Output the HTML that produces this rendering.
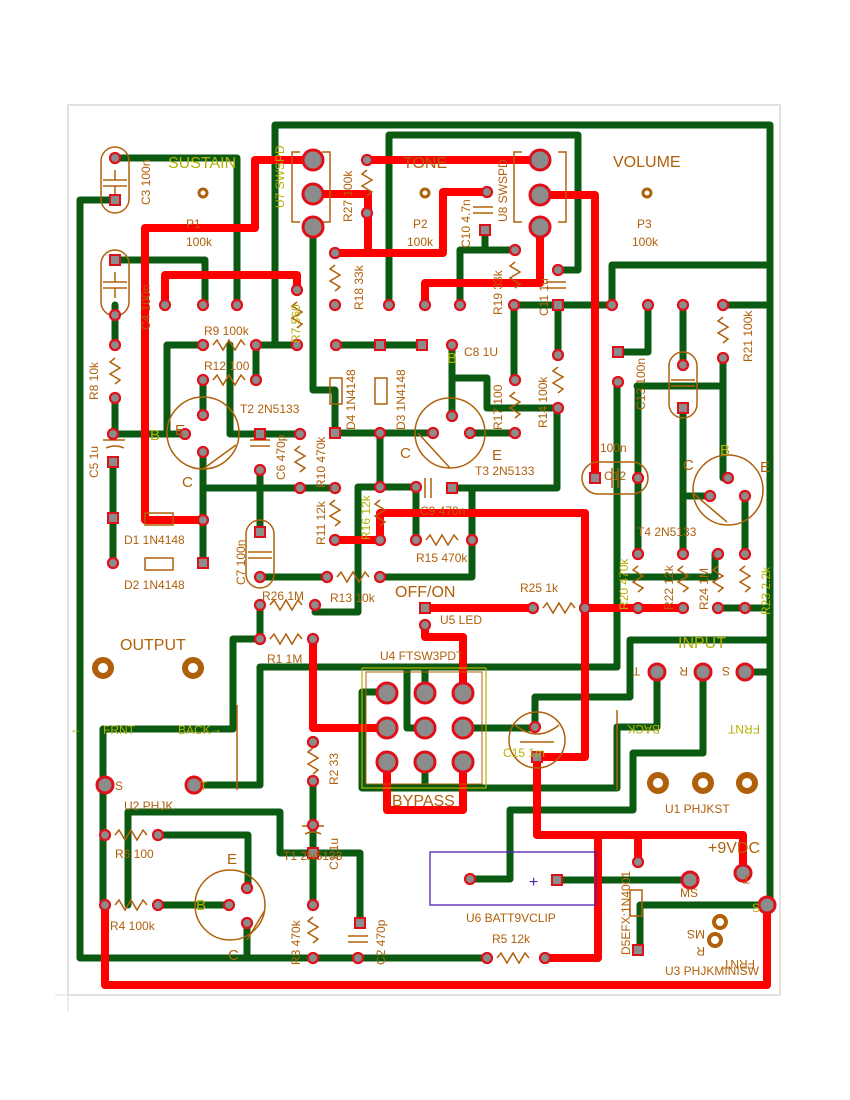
<!DOCTYPE html>
<html><head><meta charset="utf-8"><style>
html,body{margin:0;padding:0;background:#fff;}
svg{display:block;}
text{font-family:"Liberation Sans",sans-serif;}
</style></head><body>
<svg width="850" height="1100" viewBox="0 0 850 1100" xmlns="http://www.w3.org/2000/svg">
<rect x="68" y="105" width="712" height="890" fill="none" stroke="#d8d8d8" stroke-width="1.5"/>
<line x1="68" y1="995" x2="68" y2="1012" stroke="#d8d8d8"/>
<line x1="55" y1="995" x2="68" y2="995" stroke="#d8d8d8"/>

<g fill="none" stroke="#0b5a12" stroke-width="7" stroke-linejoin="round" stroke-linecap="round">
<polyline points="275,345 275,125 770,125 770,905"/>
<polyline points="612,305 612,265 770,265"/>
<polyline points="389,305 389,135 578,135 578,270 558,270"/>
<polyline points="115,200 80,200 80,958 487,958"/>
<polyline points="115,158 237,158 237,305"/>
<polyline points="115,260 205,260 205,305"/>
<polyline points="115,305 115,345"/>
<polyline points="115,398 115,434"/>
<polyline points="113,462 113,563"/>
<polyline points="256,345 297,345"/>
<polyline points="256,345 256,380"/>
<polyline points="203,345 167,345 167,434"/>
<polyline points="113,434 185,434"/>
<polyline points="230,345 230,434 260,434"/>
<polyline points="203,380 203,410"/>
<polyline points="260,434 300,434"/>
<polyline points="203,452 203,563"/>
<polyline points="203,488 335,488"/>
<polyline points="260,470 260,532"/>
<polyline points="260,577 327,577"/>
<polyline points="380,577 472,577 472,488 452,488"/>
<polyline points="452,488 557,488 557,408"/>
<polyline points="472,488 472,540"/>
<polyline points="315,612 358,612 358,487 416,487 416,540"/>
<polyline points="380,487 380,433"/>
<polyline points="335,433 433,433"/>
<polyline points="313,227 313,390 335,390 335,433"/>
<polyline points="336,345 422,345"/>
<polyline points="452,345 452,416"/>
<polyline points="452,378 487,378 487,408 557,408"/>
<polyline points="470,433 515,433"/>
<polyline points="514,380 514,305 612,305"/>
<polyline points="558,305 558,355"/>
<polyline points="485,230 485,250"/>
<polyline points="515,250 460,250 460,305"/>
<polyline points="648,305 648,352 618,352"/>
<polyline points="194,785 260,785 260,667 617,667 617,382"/>
<polyline points="260,605 260,639 233,639 233,729 103,729 103,905"/>
<polyline points="683,305 683,365"/>
<polyline points="637,386 723,386"/>
<polyline points="723,358 723,478"/>
<polyline points="723,305 770,305"/>
<polyline points="638,386 638,554"/>
<polyline points="683,408 683,554"/>
<polyline points="683,496 708,496"/>
<polyline points="745,496 745,554"/>
<polyline points="617,577 715,577 715,554"/>
<polyline points="718,608 770,608"/>
<polyline points="470,879 510,879 510,810 633,810 633,753 703,753 703,672"/>
<polyline points="657,672 657,727 617,727 617,788 362,788 362,692 387,692"/>
<polyline points="535,727 535,697 630,697 630,640 767,640"/>
<polyline points="745,672 767,672"/>
<polyline points="425,668 425,693"/>
<polyline points="407,668 407,728 425,728"/>
<polyline points="425,762 425,788"/>
<polyline points="463,728 535,728"/>
<polyline points="313,781 313,905"/>
<polyline points="128,812 280,812 280,853 360,853 360,923"/>
<polyline points="128,812 128,905"/>
<polyline points="158,905 229,905"/>
<polyline points="158,835 248,835 248,888"/>
<polyline points="247,923 247,958"/>
<polyline points="557,880 690,880"/>
<polyline points="767,905 640,905 640,950"/>
</g>

<g fill="none" stroke="#f00" stroke-width="8" stroke-linejoin="round" stroke-linecap="round">
<polyline points="313,160 255,160 255,228 145,228 145,520 203,520"/>
<polyline points="313,194 368,194 368,253 335,253"/>
<polyline points="368,253 443,253 443,192 487,192"/>
<polyline points="367,160 540,160"/>
<polyline points="540,195 595,195 595,478"/>
<polyline points="540,227 540,283 425,283 425,305"/>
<polyline points="165,305 165,275 297,275 297,290"/>
<polyline points="335,540 380,540 380,513 585,513 585,757 537,757 537,835 743,835 743,873"/>
<polyline points="598,835 598,958 545,958"/>
<polyline points="638,835 638,862"/>
<polyline points="425,608 533,608"/>
<polyline points="585,608 683,608"/>
<polyline points="425,625 425,637 463,637 463,693"/>
<polyline points="313,637 313,728 387,728"/>
<polyline points="387,762 387,810 463,810 463,762"/>
<polyline points="105,905 105,985 767,985 767,905"/>
</g>

<g fill="none" stroke="#b0600a" stroke-width="1.5">
<rect x="101" y="147" width="28" height="66" rx="14"/>
<rect x="101" y="250" width="28" height="66" rx="14"/>
<rect x="246" y="520" width="28" height="68" rx="14"/>
<rect x="582" y="462" width="66" height="32" rx="16"/>
<rect x="669" y="352" width="28" height="66" rx="14"/>
<circle cx="203" cy="433" r="36"/>
<line x1="203" y1="469" x2="236" y2="445"/>
<circle cx="450" cy="433" r="35"/>
<line x1="418" y1="433" x2="450" y2="468"/>
<circle cx="728" cy="490" r="35"/>
<line x1="694" y1="494" x2="727" y2="522"/>
<circle cx="230" cy="905" r="35"/>
<line x1="247" y1="940" x2="265" y2="910"/>
<circle cx="537" cy="740" r="28"/>
<path d="M515,725 q22,18 44,0 M520,742 h34"/>
<path d="M300,152 h-8 v70 h8 M322,152 h8 v70 h-8"/>
<path d="M522,152 h-8 v70 h8 M558,152 h8 v70 h-8"/>
<rect x="145" y="513" width="28" height="12"/>
<rect x="145" y="558" width="28" height="12"/>
<rect x="330" y="378" width="12" height="26"/>
<rect x="375" y="378" width="12" height="26"/>
<rect x="630" y="890" width="12" height="26"/>
<line x1="237" y1="705" x2="237" y2="790"/>
<line x1="617" y1="710" x2="617" y2="790"/>
</g>
<rect x="362" y="668" width="124" height="120" fill="none" stroke="#b5b000" stroke-width="1.2"/>
<rect x="366" y="672" width="116" height="112" fill="none" stroke="#b0600a" stroke-width="1"/>
<rect x="430" y="852" width="166" height="53" fill="none" stroke="#5020b0" stroke-width="1.3"/>
<text x="529" y="887" font-size="16" fill="#5020b0">+</text>

<g fill="none" stroke="#b0600a" stroke-width="1.5">
<path d="M115,358 l-5,4 l10,6 l-10,6 l10,6 l-5,4"/>
<path d="M213,345 l4,-5 l6,10 l6,-10 l6,10 l6,-10 l4,5"/>
<path d="M213,380 l4,-5 l6,10 l6,-10 l6,10 l6,-10 l4,5"/>
<path d="M297,302 l-5,4 l10,6 l-10,6 l10,6 l-5,4"/>
<path d="M367,170 l-5,4 l10,6 l-10,6 l10,6 l-5,4"/>
<path d="M335,265 l-5,4 l10,6 l-10,6 l10,6 l-5,4"/>
<path d="M515,262 l-5,4 l10,6 l-10,6 l10,6 l-5,4"/>
<path d="M515,392 l-5,4 l10,6 l-10,6 l10,6 l-5,4"/>
<path d="M558,367 l-5,4 l10,6 l-10,6 l10,6 l-5,4"/>
<path d="M723,317 l-5,4 l10,6 l-10,6 l10,6 l-5,4"/>
<path d="M300,446 l-5,4 l10,6 l-10,6 l10,6 l-5,4"/>
<path d="M335,500 l-5,4 l10,6 l-10,6 l10,6 l-5,4"/>
<path d="M380,500 l-5,4 l10,6 l-10,6 l10,6 l-5,4"/>
<path d="M426,540 l4,-5 l6,10 l6,-10 l6,10 l6,-10 l4,5"/>
<path d="M337,577 l4,-5 l6,10 l6,-10 l6,10 l6,-10 l4,5"/>
<path d="M270,605 l4,-5 l6,10 l6,-10 l6,10 l6,-10 l4,5"/>
<path d="M270,639 l4,-5 l6,10 l6,-10 l6,10 l6,-10 l4,5"/>
<path d="M543,608 l4,-5 l6,10 l6,-10 l6,10 l6,-10 l4,5"/>
<path d="M638,566 l-5,4 l10,6 l-10,6 l10,6 l-5,4"/>
<path d="M683,566 l-5,4 l10,6 l-10,6 l10,6 l-5,4"/>
<path d="M718,566 l-5,4 l10,6 l-10,6 l10,6 l-5,4"/>
<path d="M745,566 l-5,4 l10,6 l-10,6 l10,6 l-5,4"/>
<path d="M313,748 l-5,4 l10,6 l-10,6 l10,6 l-5,4"/>
<path d="M115,835 l4,-5 l6,10 l6,-10 l6,10 l6,-10 l4,5"/>
<path d="M115,905 l4,-5 l6,10 l6,-10 l6,10 l6,-10 l4,5"/>
<path d="M313,917 l-5,4 l10,6 l-10,6 l10,6 l-5,4"/>
<path d="M497,958 l4,-5 l6,10 l6,-10 l6,10 l6,-10 l4,5"/>
<path d="M103,180 h24 M103,186 h24 M115,170 v10 M115,186 v10"/>
<path d="M103,282 h24 M103,288 h24 M115,272 v10 M115,288 v10"/>
<path d="M248,552 h24 M248,558 h24"/>
<path d="M612,468 v20 M618,468 v20"/>
<path d="M671,380 h24 M671,386 h24"/>
<path d="M250,440 h20 M250,446 h20"/>
<path d="M425,478 v20 M431,478 v20"/>
<path d="M473,207 h20 M473,213 h20"/>
<path d="M546,282 h20 M546,288 h20"/>
<path d="M348,936 h20 M348,942 h20"/>
<path d="M302,826 h22 M305,834 q8,-4 16,0"/>
<path d="M103,440 h22 M106,448 q9,-4 18,0"/>
</g>

<g fill="#8c8c8c" stroke="#e0101a" stroke-width="2.2">
<circle cx="115" cy="158" r="5"/><circle cx="115" cy="315" r="5"/><circle cx="115" cy="345" r="5"/><circle cx="115" cy="398" r="5"/>
<circle cx="113" cy="434" r="5"/><circle cx="113" cy="563" r="5"/>
<circle cx="165" cy="305" r="5"/><circle cx="203" cy="305" r="5"/><circle cx="237" cy="305" r="5"/><circle cx="297" cy="290" r="5"/>
<circle cx="203" cy="345" r="5"/><circle cx="256" cy="345" r="5"/><circle cx="297" cy="345" r="5"/>
<circle cx="203" cy="380" r="5"/><circle cx="256" cy="380" r="5"/>
<circle cx="203" cy="415" r="5"/><circle cx="185" cy="434" r="5"/><circle cx="203" cy="452" r="5"/>
<circle cx="300" cy="434" r="5"/><circle cx="260" cy="470" r="5"/><circle cx="300" cy="488" r="5"/><circle cx="335" cy="488" r="5"/>
<circle cx="203" cy="520" r="5"/><circle cx="260" cy="577" r="5"/><circle cx="327" cy="577" r="5"/><circle cx="380" cy="577" r="5"/>
<circle cx="335" cy="540" r="5"/><circle cx="380" cy="540" r="5"/><circle cx="416" cy="540" r="5"/><circle cx="472" cy="540" r="5"/>
<circle cx="380" cy="487" r="5"/><circle cx="416" cy="487" r="5"/>
<circle cx="260" cy="605" r="5"/><circle cx="315" cy="605" r="5"/><circle cx="260" cy="639" r="5"/><circle cx="313" cy="639" r="5"/>
<circle cx="367" cy="160" r="5"/><circle cx="367" cy="213" r="5"/><circle cx="335" cy="253" r="5"/><circle cx="335" cy="305" r="5"/><circle cx="389" cy="305" r="5"/>
<circle cx="425" cy="305" r="5"/><circle cx="460" cy="305" r="5"/><circle cx="487" cy="192" r="5"/><circle cx="515" cy="250" r="5"/>
<circle cx="558" cy="270" r="5"/><circle cx="514" cy="305" r="5"/><circle cx="612" cy="305" r="5"/><circle cx="648" cy="305" r="5"/>
<circle cx="683" cy="305" r="5"/><circle cx="723" cy="305" r="5"/><circle cx="723" cy="358" r="5"/><circle cx="683" cy="365" r="5"/>
<circle cx="336" cy="345" r="5"/><circle cx="452" cy="345" r="5"/><circle cx="515" cy="380" r="5"/><circle cx="558" cy="355" r="5"/>
<circle cx="558" cy="408" r="5"/><circle cx="618" cy="382" r="5"/>
<circle cx="380" cy="433" r="5"/><circle cx="433" cy="433" r="5"/><circle cx="452" cy="416" r="5"/><circle cx="470" cy="433" r="5"/><circle cx="515" cy="433" r="5"/>
<circle cx="638" cy="478" r="5"/><circle cx="710" cy="496" r="5"/><circle cx="728" cy="478" r="5"/><circle cx="745" cy="496" r="5"/>
<circle cx="638" cy="554" r="5"/><circle cx="683" cy="554" r="5"/><circle cx="718" cy="554" r="5"/><circle cx="745" cy="554" r="5"/>
<circle cx="585" cy="608" r="5"/><circle cx="638" cy="608" r="5"/><circle cx="683" cy="608" r="5"/><circle cx="718" cy="608" r="5"/><circle cx="745" cy="608" r="5"/>
<circle cx="533" cy="608" r="5"/><circle cx="425" cy="625" r="5"/><circle cx="535" cy="727" r="5"/>
<circle cx="313" cy="742" r="5"/><circle cx="313" cy="781" r="5"/><circle cx="313" cy="825" r="5"/><circle cx="313" cy="905" r="5"/><circle cx="313" cy="958" r="5"/><circle cx="358" cy="958" r="5"/>
<circle cx="105" cy="835" r="5"/><circle cx="158" cy="835" r="5"/><circle cx="105" cy="905" r="5"/><circle cx="158" cy="905" r="5"/>
<circle cx="247" cy="888" r="5"/><circle cx="229" cy="905" r="5"/><circle cx="247" cy="923" r="5"/>
<circle cx="487" cy="958" r="5"/><circle cx="545" cy="958" r="5"/><circle cx="470" cy="879" r="5"/><circle cx="638" cy="862" r="5"/>
</g>
<g fill="#8c8c8c" stroke="#e0101a" stroke-width="2">
<rect x="110" y="195" width="10" height="10"/><rect x="110" y="255" width="10" height="10"/><rect x="108" y="457" width="10" height="10"/><rect x="108" y="513" width="10" height="10"/>
<rect x="198" y="558" width="10" height="10"/><rect x="255" y="429" width="10" height="10"/><rect x="255" y="527" width="10" height="10"/>
<rect x="330" y="428" width="10" height="10"/><rect x="375" y="340" width="10" height="10"/><rect x="417" y="340" width="10" height="10"/>
<rect x="447" y="483" width="10" height="10"/><rect x="480" y="225" width="10" height="10"/><rect x="553" y="300" width="10" height="10"/>
<rect x="613" y="347" width="10" height="10"/><rect x="678" y="403" width="10" height="10"/><rect x="590" y="473" width="10" height="10"/>
<rect x="420" y="603" width="10" height="10"/><rect x="532" y="752" width="10" height="10"/><rect x="308" y="848" width="10" height="10"/>
<rect x="355" y="918" width="10" height="10"/><rect x="552" y="875" width="10" height="10"/><rect x="633" y="945" width="10" height="10"/>
</g>
<g fill="#8c8c8c" stroke="#e0101a" stroke-width="3">
<circle cx="313" cy="160" r="10"/><circle cx="313" cy="194" r="10"/><circle cx="313" cy="227" r="10"/>
<circle cx="540" cy="160" r="10"/><circle cx="540" cy="195" r="10"/><circle cx="540" cy="227" r="10"/>
<circle cx="387" cy="693" r="10"/><circle cx="425" cy="693" r="10"/><circle cx="463" cy="693" r="10"/>
<circle cx="387" cy="728" r="10"/><circle cx="425" cy="728" r="10"/><circle cx="463" cy="728" r="10"/>
<circle cx="387" cy="762" r="10"/><circle cx="425" cy="762" r="10"/><circle cx="463" cy="762" r="10"/>
<circle cx="105" cy="785" r="8"/><circle cx="194" cy="785" r="8"/>
<circle cx="657" cy="672" r="8"/><circle cx="703" cy="672" r="8"/><circle cx="745" cy="672" r="8"/>
<circle cx="690" cy="880" r="8"/><circle cx="743" cy="873" r="8"/><circle cx="767" cy="905" r="8"/>
</g>
<g fill="none" stroke="#b0600a">
<circle cx="203" cy="193" r="4" stroke-width="3"/><circle cx="425" cy="193" r="4" stroke-width="3"/><circle cx="647" cy="193" r="4" stroke-width="3"/>
<circle cx="103" cy="668" r="8" stroke-width="6"/><circle cx="193" cy="668" r="8" stroke-width="6"/>
<circle cx="658" cy="783" r="8" stroke-width="6"/><circle cx="703" cy="783" r="8" stroke-width="6"/><circle cx="747" cy="783" r="8" stroke-width="6"/>
<circle cx="720" cy="922" r="6" stroke-width="4"/><circle cx="715" cy="940" r="6" stroke-width="4"/>
</g>

<g fill="#b0600a" font-size="12">
<text x="186" y="228">P1</text><text x="186" y="246">100k</text>
<text x="413" y="228">P2</text><text x="407" y="246">100k</text>
<text x="637" y="228">P3</text><text x="632" y="246">100k</text>
<text x="613" y="167" font-size="16">VOLUME</text>
<text x="120" y="650" font-size="16">OUTPUT</text>
<text x="395" y="597" font-size="16">OFF/ON</text>
<text x="708" y="853" font-size="16">+9VDC</text>
<text x="204" y="335">R9  100k</text><text x="204" y="370">R12 100</text>
<text x="240" y="413">T2 2N5133</text><text x="475" y="475">T3 2N5133</text><text x="637" y="536">T4 2N5133</text>
<text x="283" y="860">T1 2N5133</text>
<text x="124" y="544">D1 1N4148</text><text x="124" y="589">D2 1N4148</text>
<text x="416" y="562">R15 470k</text><text x="330" y="602">R13 10k</text><text x="262" y="600">R26 1M</text><text x="267" y="663">R1 1M</text>
<text x="520" y="592">R25 1k</text><text x="440" y="624">U5 LED</text><text x="380" y="660">U4  FTSW3PDT</text>
<text x="124" y="810">U2 PHJK</text><text x="115" y="858">R6 100</text><text x="110" y="930">R4 100k</text>
<text x="466" y="922">U6 BATT9VCLIP</text><text x="492" y="943">R5 12k</text>
<text x="665" y="813">U1 PHJKST</text><text x="665" y="975">U3 PHJKMINISW</text>
<text x="604" y="480">C12</text><text x="600" y="452">100n</text>
<text x="420" y="515">C9 470n</text>
<text x="503" y="757" fill="#b5b000">C15 1m</text>
<text x="175" y="435" font-size="15">E</text><text x="182" y="487" font-size="15">C</text>
<text x="400" y="458" font-size="15">C</text><text x="492" y="460" font-size="15">E</text>
<text x="683" y="470" font-size="15">C</text><text x="760" y="472" font-size="15">E</text>
<text x="227" y="864" font-size="15">E</text><text x="228" y="960" font-size="15">C</text>
<text x="115" y="790">S</text><text x="680" y="897">MS</text>
<text x="464" y="356">C8 1U</text>
</g>
<g fill="#b5b000" font-size="12">
<text x="168" y="168" font-size="16">SUSTAIN</text>
<text x="403" y="168" font-size="16" fill="#b0600a">TONE</text>
<text x="678" y="648" font-size="16">INPUT</text>
<text x="392" y="806" font-size="16" fill="#b0600a">BYPASS</text>
<text x="103" y="734">FRNT</text><text x="178" y="734">BACK</text>
<text x="200" y="790">T</text><text x="752" y="912">S</text>
<text x="447" y="363" font-size="15">B</text><text x="720" y="455" font-size="15">B</text>
<text x="196" y="910" font-size="15">B</text><text x="150" y="440" font-size="15">B</text>
<text x="70" y="733">←</text><text x="210" y="733">→</text>
</g>
<g fill="#b0600a" font-size="12">
<text transform="translate(150,205) rotate(-90)">C3 100n</text>
<text transform="translate(150,330) rotate(-90)">C4 100n</text>
<text transform="translate(98,400) rotate(-90)">R8 10k</text>
<text transform="translate(98,478) rotate(-90)">C5 1u</text>
<text transform="translate(284,208) rotate(-90)" fill="#b5b000">U7 SWSPD</text>
<text transform="translate(352,222) rotate(-90)">R27 100k</text>
<text transform="translate(363,310) rotate(-90)">R18 33k</text>
<text transform="translate(507,222) rotate(-90)">U8 SWSPD</text>
<text transform="translate(470,248) rotate(-90)">C10 4.7n</text>
<text transform="translate(502,315) rotate(-90)">R19 33k</text>
<text transform="translate(548,316) rotate(-90)">C11 1u</text>
<text transform="translate(355,430) rotate(-90)">D4 1N4148</text>
<text transform="translate(405,430) rotate(-90)">D3 1N4148</text>
<text transform="translate(502,430) rotate(-90)">R17 100</text>
<text transform="translate(547,428) rotate(-90)">R14 100k</text>
<text transform="translate(752,362) rotate(-90)">R21 100k</text>
<text transform="translate(645,410) rotate(-90)">C13 100n</text>
<text transform="translate(285,480) rotate(-90)">C6 470p</text>
<text transform="translate(325,488) rotate(-90)">R10 470k</text>
<text transform="translate(325,545) rotate(-90)">R11 12k</text>
<text transform="translate(370,540) rotate(-90)" fill="#b5b000">R16 12k</text>
<text transform="translate(245,585) rotate(-90)">C7 100n</text>
<text transform="translate(338,785) rotate(-90)">R2 33</text>
<text transform="translate(338,870) rotate(-90)">C1 1u</text>
<text transform="translate(300,965) rotate(-90)">R3 470k</text>
<text transform="translate(385,965) rotate(-90)">C2 470p</text>
<text transform="translate(628,610) rotate(-90)" fill="#b5b000">R20 470k</text>
<text transform="translate(673,610) rotate(-90)">R22 12k</text>
<text transform="translate(708,610) rotate(-90)">R24 1M</text>
<text transform="translate(770,615) rotate(-90)" fill="#b5b000">R23 2.2k</text>
<text transform="translate(630,955) rotate(-90)">D5EFX:1N4001</text>
<text transform="translate(300,343) rotate(-90)" fill="#b5b000">R7 560</text>
<text transform="translate(760,725) rotate(180)" fill="#b5b000">FRNT</text>
<text transform="translate(660,725) rotate(180)" fill="#b5b000">BACK</text>
<text transform="translate(640,667) rotate(180)">T</text>
<text transform="translate(688,667) rotate(180)">R</text>
<text transform="translate(730,667) rotate(180)">S</text>
<text transform="translate(705,930) rotate(180)">MS</text>
<text transform="translate(705,947) rotate(180)">R</text>
<text transform="translate(755,960) rotate(180)">FRNT</text>
<text transform="translate(750,875) rotate(180)">T</text>
</g>
</svg>
</body></html>
